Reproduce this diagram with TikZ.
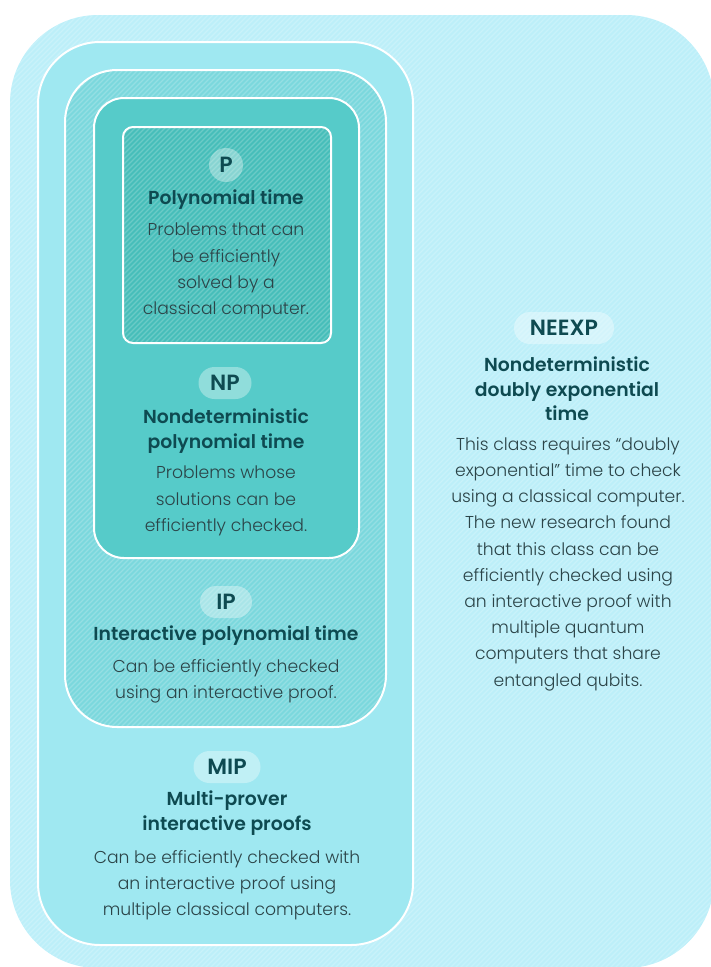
\documentclass[tikz,border=0pt]{standalone}
\usepackage{fontspec}
\IfFontExistsTF{Poppins Light}{\newfontfamily\bodyfont{Poppins Light}}{\newfontfamily\bodyfont{Poppins}}
\IfFontExistsTF{Poppins SemiBold}{\newfontfamily\headfont{Poppins SemiBold}}{\newfontfamily\headfontx{Poppins}\newcommand\headfont{\headfontx\bfseries}}
\usetikzlibrary{positioning}
\definecolor{neexpC}{HTML}{BCEFF9}
\definecolor{mipC}{HTML}{9FE8F1}
\definecolor{ipC}{HTML}{7BD8DD}
\definecolor{npC}{HTML}{56CBC9}
\definecolor{pC}{HTML}{47BEBA}
\definecolor{headC}{HTML}{0E4A51}
\definecolor{bodyC}{HTML}{2B4448}
\tikzset{
    region/.style={draw=white, line width=2pt},
    hatch/.style={white, opacity=0.2, line width=1.2pt},
    badge/.style={rounded corners=16pt, fill=white, fill opacity=0.35, text opacity=1, text=headC, font=\headfont\fontsize{22}{22}\selectfont, inner sep=0pt, minimum height=32pt},
    title/.style={text=headC, font=\headfont\fontsize{18.8}{24.5}\selectfont, align=center, inner sep=0pt},
    blurb/.style={text=bodyC, font=\bodyfont\fontsize{17.2}{26.2}\selectfont, align=center, inner sep=0pt}
}
% stripes inside a rounded box: radius, corner, corner
\newcommand\hatchbox[3]{%
    \begin{scope}
        \clip[rounded corners=#1] #2 rectangle #3;
        \foreach \i in {-970,-965,...,715}
            \draw[hatch] (\i,968) -- ++(968,-968);
    \end{scope}}

\begin{document}
\begin{tikzpicture}[x=1pt, y=-1pt]
    \useasboundingbox (0,0) rectangle (710,967);
    % nested classes
    \fill[neexpC, rounded corners=88pt] (10,15) rectangle (714,968);
    \hatchbox{88pt}{(10,15)}{(714,968)}
    \draw[region, fill=mipC, rounded corners=62pt] (38,42) rectangle (413,945);
    \draw[region, fill=ipC, rounded corners=52pt] (65,70) rectangle (386,727);
    \hatchbox{52pt}{(65,70)}{(386,727)}
    \draw[region, fill=npC, rounded corners=30pt] (94,98) rectangle (359,558);
    \draw[region, fill=pC, rounded corners=10pt] (123,127) rectangle (331,343);
    \hatchbox{10pt}{(123,127)}{(331,343)}

    % P
    \node[badge, circle, minimum size=34pt] (pTag) at (226,165) {P};
    \node[title] (pName) at (226,200) {Polynomial time};
    \node[blurb] (pText) at (226,271) {Problems that can\\be efficiently\\solved by a\\classical computer.};

    % NP
    \node[badge, minimum width=53pt] (npTag) at (225,383) {NP};
    \node[title] (npName) at (226,431) {Nondeterministic\\polynomial time};
    \node[blurb] (npText) at (226,501) {Problems whose\\solutions can be\\efficiently checked.};

    % IP
    \node[badge, minimum width=52pt] (ipTag) at (226,602) {IP};
    \node[title] (ipName) at (226,636) {Interactive polynomial time};
    \node[blurb] (ipText) at (226,681) {Can be efficiently checked\\using an interactive proof.};

    % MIP
    \node[badge, minimum width=67pt] (mipTag) at (227,767) {MIP};
    \node[title] (mipName) at (227,813) {Multi-prover\\interactive proofs};
    \node[blurb] (mipText) at (227,885) {Can be efficiently checked with\\an interactive proof using\\multiple classical computers.};

    % NEEXP
    \node[badge, minimum width=100pt] (neexpTag) at (564,328) {NEEXP};
    \node[title] (neexpName) at (567,389) {Nondeterministic\\doubly exponential\\time};
    \node[blurb] (neexpText) at (568,564) {This class requires “doubly\\exponential” time to check\\using a classical computer.\\The new research found\\that this class can be\\efficiently checked using\\an interactive proof with\\multiple quantum\\computers that share\\entangled qubits.};
\end{tikzpicture}
\end{document}
